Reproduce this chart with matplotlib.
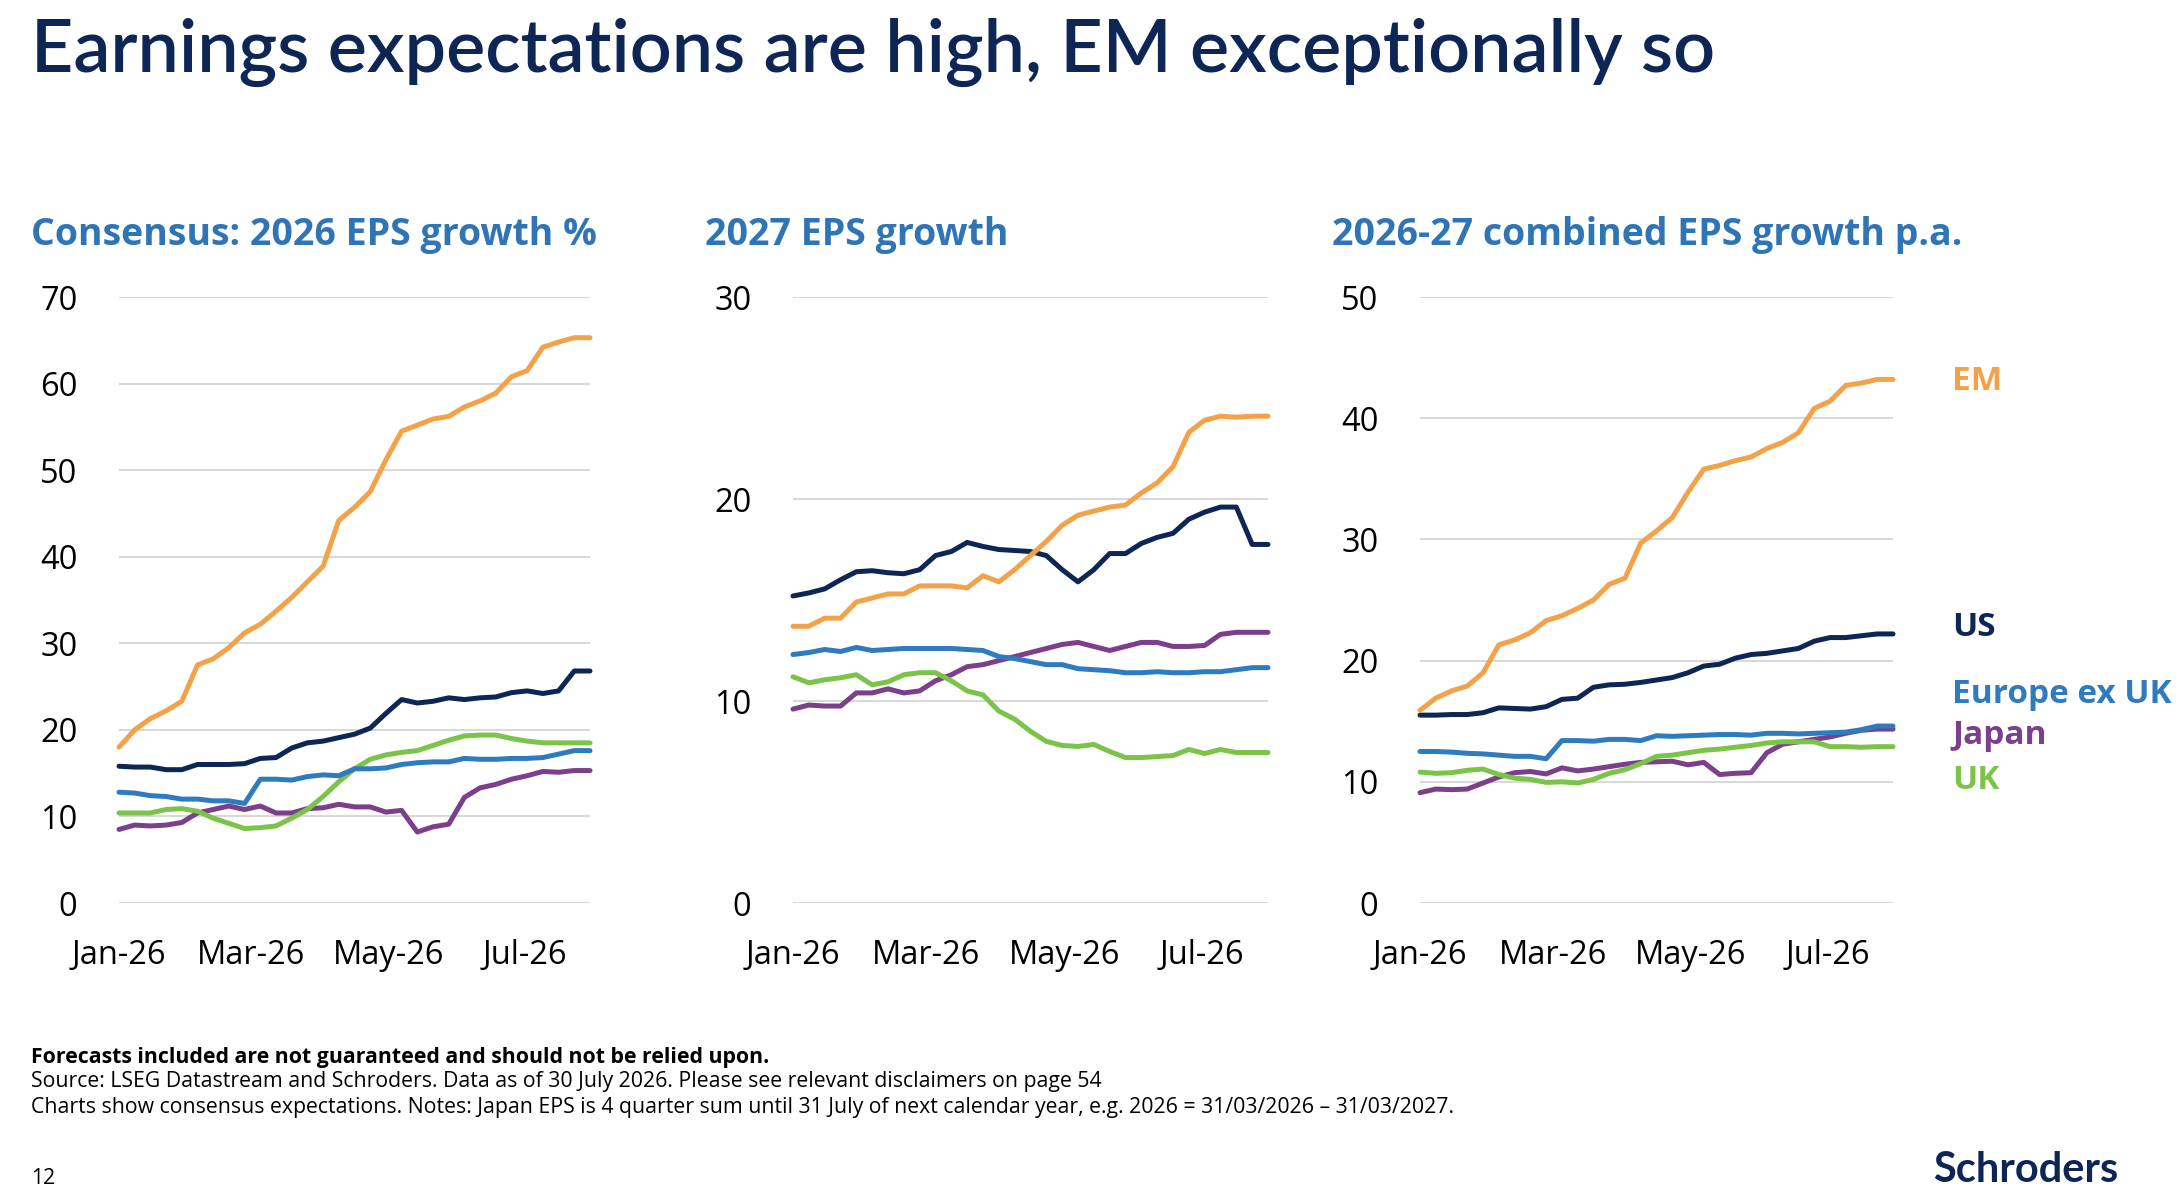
import matplotlib
matplotlib.use("Agg")
import matplotlib.pyplot as plt
import pandas as pd

dates = pd.date_range("2026-01-01", periods=31, freq="7D")
series_names = ["EM", "US", "Europe ex UK", "Japan", "UK"]
colors = {"EM": "#f4a24a", "US": "#0d2656", "Europe ex UK": "#2f7bbf",
          "Japan": "#7b3f8c", "UK": "#7cc34a"}

p1_em = [18.0,20.0,21.3,22.2,23.3,27.5,28.2,29.5,31.2,32.2,33.7,35.3,37.1,38.9,44.2,45.7,47.5,51.2,54.5,55.2,55.9,56.2,57.3,58.0,58.9,60.8,61.5,64.2,64.8,65.3,65.3]
p1_us = [15.8,15.7,15.7,15.4,15.4,16.0,16.0,16.0,16.1,16.7,16.8,17.9,18.5,18.7,19.1,19.5,20.2,21.9,23.5,23.1,23.3,23.7,23.5,23.7,23.8,24.3,24.5,24.2,24.5,26.8,26.8]
p1_eu = [12.8,12.7,12.4,12.3,12.0,12.0,11.8,11.8,11.5,14.3,14.3,14.2,14.6,14.8,14.7,15.5,15.5,15.6,16.0,16.2,16.3,16.3,16.7,16.6,16.6,16.7,16.7,16.8,17.2,17.6,17.6]
p1_uk = [10.4,10.4,10.4,10.8,10.9,10.6,9.8,9.2,8.6,8.7,8.9,9.8,10.8,12.3,14.0,15.5,16.6,17.1,17.4,17.6,18.2,18.8,19.3,19.4,19.4,19.0,18.7,18.5,18.5,18.5,18.5]
p1_jp = [8.5,9.0,8.9,9.0,9.3,10.4,10.8,11.2,10.8,11.2,10.4,10.4,10.9,11.0,11.4,11.1,11.1,10.5,10.7,8.2,8.8,9.1,12.2,13.3,13.7,14.3,14.7,15.2,15.1,15.3,15.3]

p2_em = [13.7,13.7,14.1,14.1,14.9,15.1,15.3,15.3,15.7,15.7,15.7,15.6,16.2,15.9,16.5,17.2,17.9,18.7,19.2,19.4,19.6,19.7,20.3,20.8,21.6,23.3,23.9,24.1,24.05,24.1,24.1]
p2_us = [15.2,15.35,15.55,16.0,16.4,16.45,16.35,16.3,16.5,17.2,17.4,17.85,17.65,17.5,17.45,17.4,17.2,16.5,15.9,16.5,17.3,17.3,17.8,18.1,18.3,19.0,19.35,19.6,19.6,17.75,17.75]
p2_eu = [12.3,12.4,12.55,12.45,12.65,12.5,12.55,12.6,12.6,12.6,12.6,12.55,12.5,12.2,12.1,11.95,11.8,11.8,11.6,11.55,11.5,11.4,11.4,11.45,11.4,11.4,11.45,11.45,11.55,11.65,11.65]
p2_uk = [11.2,10.9,11.05,11.15,11.3,10.8,10.95,11.3,11.4,11.4,11.0,10.5,10.3,9.5,9.1,8.5,8.0,7.8,7.75,7.85,7.5,7.2,7.2,7.25,7.3,7.6,7.4,7.6,7.45,7.45,7.45]
p2_jp = [9.6,9.8,9.75,9.75,10.4,10.4,10.6,10.4,10.5,11.0,11.3,11.7,11.8,12.0,12.2,12.4,12.6,12.8,12.9,12.7,12.5,12.7,12.9,12.9,12.7,12.7,12.75,13.3,13.4,13.4,13.4]

p3_em = [15.9,16.9,17.5,17.9,19.0,21.3,21.7,22.3,23.3,23.7,24.3,25.0,26.3,26.8,29.7,30.7,31.8,33.9,35.8,36.1,36.5,36.8,37.5,38.0,38.8,40.8,41.4,42.7,42.9,43.2,43.2]
p3_us = [15.5,15.5,15.55,15.55,15.7,16.1,16.05,16.0,16.2,16.8,16.9,17.8,18.0,18.05,18.2,18.4,18.6,19.0,19.55,19.7,20.2,20.5,20.6,20.8,21.0,21.6,21.9,21.9,22.05,22.2,22.2]
p3_eu = [12.5,12.5,12.45,12.35,12.3,12.2,12.1,12.1,11.9,13.4,13.4,13.35,13.5,13.5,13.4,13.8,13.75,13.8,13.85,13.9,13.9,13.85,14.0,14.0,13.95,14.0,14.05,14.1,14.3,14.6,14.6]
p3_uk = [10.8,10.7,10.75,10.95,11.05,10.6,10.3,10.2,9.95,10.0,9.9,10.2,10.7,11.0,11.5,12.1,12.2,12.4,12.6,12.7,12.85,13.0,13.2,13.3,13.3,13.3,12.9,12.9,12.85,12.9,12.9]
p3_jp = [9.1,9.4,9.35,9.4,9.9,10.4,10.75,10.85,10.65,11.15,10.9,11.05,11.25,11.45,11.6,11.65,11.7,11.4,11.6,10.6,10.7,10.75,12.4,13.1,13.3,13.5,13.7,14.0,14.25,14.35,14.35]

panel_titles = ["Consensus: 2026 EPS growth %", "2027 EPS growth", "2026-27 combined EPS growth p.a."]
panel_ylims = [(0, 70, 10), (0, 30, 10), (0, 50, 10)]
panel_data = [
    {"EM": p1_em, "US": p1_us, "Europe ex UK": p1_eu, "Japan": p1_jp, "UK": p1_uk},
    {"EM": p2_em, "US": p2_us, "Europe ex UK": p2_eu, "Japan": p2_jp, "UK": p2_uk},
    {"EM": p3_em, "US": p3_us, "Europe ex UK": p3_eu, "Japan": p3_jp, "UK": p3_uk},
]
tick_dates = pd.to_datetime(["2026-01-01", "2026-03-01", "2026-05-01", "2026-07-01"])
tick_labels = ["Jan-26", "Mar-26", "May-26", "Jul-26"]
label_y = {"EM": 43.0, "US": 22.7, "Europe ex UK": 17.2, "Japan": 13.8, "UK": 10.1}

navy = "#0d2656"
blue = "#2f75b6"
W, H = 2178, 1194
fig = plt.figure(figsize=(W / 100, H / 100), dpi=100)
plt.rcParams['font.family'] = ['Open Sans', 'DejaVu Sans']

fig.text(31 / W, 1 - 52 / H, "Earnings expectations are high, EM exceptionally so",
         fontsize=53, color=navy, family="Lato", fontweight="semibold", va="center", ha="left")

lefts = [119, 793, 1420]
widths = [471, 475, 473]
draw_order = ["Japan", "UK", "Europe ex UK", "US", "EM"]
axes = []
for i in range(3):
    ax = fig.add_axes([lefts[i] / W, 1 - 903 / H, widths[i] / W, 606 / H])
    axes.append(ax)
    for name in draw_order:
        ax.plot(dates, panel_data[i][name], color=colors[name], lw=3.6,
                solid_capstyle="round", solid_joinstyle="round", zorder=3, clip_on=False)
    lo, hi, st = panel_ylims[i]
    ax.set_ylim(lo, hi)
    ax.set_yticks(range(lo, hi + 1, st))
    ax.set_xlim(dates[0], dates[-1])
    ax.set_xticks(tick_dates)
    ax.set_xticklabels(tick_labels)
    ax.grid(axis="y", color="#d9d9d9", lw=1.5, zorder=0)
    for s in ax.spines.values():
        s.set_visible(False)
    ax.tick_params(length=0, labelsize=23.5, colors="black")
    ax.tick_params(axis="x", pad=26)
    ax.tick_params(axis="y", pad=30)
    fig.text((lefts[i] - 88) / W, 1 - 235 / H, panel_titles[i], fontsize=27,
             fontweight="bold", color=blue, va="center", ha="left")

ax3 = axes[2]
for name in series_names:
    ax3.text(1.125, label_y[name], name, transform=ax3.get_yaxis_transform(),
             color=colors[name], fontsize=24, fontweight="bold", va="center", ha="left")

fs = 15.3
fig.text(31 / W, 1 - 1057 / H, "Forecasts included are not guaranteed and should not be relied upon.",
         fontsize=fs, fontweight="bold", color="black", va="center")
fig.text(31 / W, 1 - 1082 / H, "Source: LSEG Datastream and Schroders. Data as of 30 July 2026. Please see relevant disclaimers on page 54",
         fontsize=fs, color="black", va="center")
fig.text(31 / W, 1 - 1107 / H, "Charts show consensus expectations. Notes: Japan EPS is 4 quarter sum until 31 July of next calendar year, e.g. 2026 = 31/03/2026 \u2013 31/03/2027.",
         fontsize=fs, color="black", va="center")
fig.text(31 / W, 1 - 1178 / H, "12", fontsize=fs, color="black", va="center")
fig.text(2118 / W, 1 - 1170 / H, "Schroders", fontsize=30, fontweight="bold", color=navy,
         va="center", ha="right", family="Lato")

fig.savefig("out.png", dpi=100, facecolor="white")
